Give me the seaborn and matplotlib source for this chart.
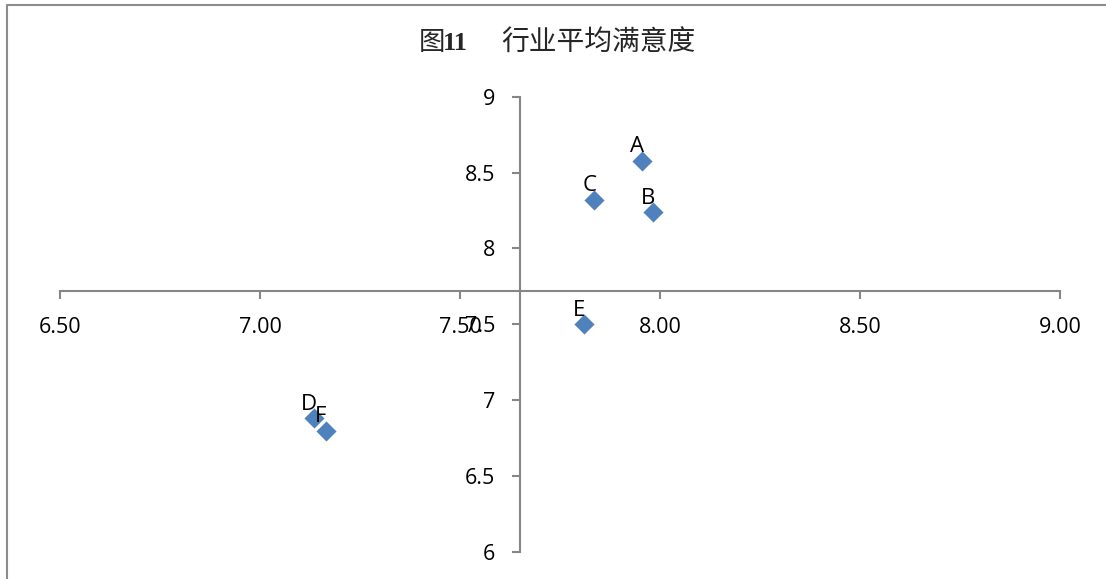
import matplotlib
matplotlib.use("Agg")
import matplotlib.pyplot as plt
from matplotlib.lines import Line2D
import seaborn as sns
import pandas as pd

# Industry average satisfaction: importance (x) vs satisfaction (y)
labels = ["A", "B", "C", "D", "E", "F"]
x_vals = [7.956, 7.983, 7.836, 7.135, 7.810, 7.164]
y_vals = [8.578, 8.238, 8.319, 6.880, 7.500, 6.796]

x_ticks = [6.5, 7.0, 7.5, 8.0, 8.5, 9.0]
y_ticks = [6.0, 6.5, 7.0, 7.5, 8.0, 8.5, 9.0]
x_cross = 7.65   # where the vertical axis crosses
y_cross = 7.72   # where the horizontal axis crosses

sns.set_theme(style="white")
plt.rcParams["font.family"] = ["Open Sans", "Noto Sans CJK SC", "DejaVu Sans"]

df = pd.DataFrame({"label": labels, "x": x_vals, "y": y_vals})

W, H = 1106, 579
fig = plt.figure(figsize=(W / 100, H / 100), dpi=100)
ax = fig.add_axes([60 / W, 1 - 551.7 / H, 1000 / W, (551.7 - 96.7) / H])

sns.scatterplot(data=df, x="x", y="y", marker="D", s=105, color="#4F81BD",
                linewidth=0, ax=ax, zorder=3, clip_on=False)

for lab, xv, yv in zip(labels, x_vals, y_vals):
    ax.annotate(lab, (xv, yv), xytext=(-5, 14), textcoords="offset pixels",
                ha="center", va="center", fontsize=16, color="black",
                zorder=4)

ax.set_xlim(6.5, 9.0)
ax.set_ylim(6.0, 9.0)
ax.set_xticks(x_ticks)
ax.set_yticks(y_ticks)
ax.set_xticklabels([f"{v:.2f}" for v in x_ticks])
ax.set_yticklabels([f"{v:g}" for v in y_ticks])
ax.set_xlabel("")
ax.set_ylabel("")

axis_color = "#868686"
for side in ("top", "right"):
    ax.spines[side].set_visible(False)
ax.spines["left"].set_position(("data", x_cross))
ax.spines["bottom"].set_position(("data", y_cross))
for side in ("left", "bottom"):
    ax.spines[side].set_color(axis_color)
    ax.spines[side].set_linewidth(1.5)

ax.tick_params(axis="both", which="major", direction="out", length=6,
               width=1.5, color=axis_color, labelsize=15.5, labelcolor="black")
ax.tick_params(axis="x", pad=13, bottom=True)
ax.tick_params(axis="y", pad=12, left=True)
ax.patch.set_alpha(0)

# Title: figure number in bold serif, caption in light CJK
ty = 1 - 43 / H
fig.text(419 / W, ty, "图", fontsize=19, family=["Noto Sans CJK SC"],
         fontweight="light", ha="left", va="center")
fig.text(443 / W, ty, "11", fontsize=19, family=["Liberation Serif"],
         fontweight="bold", ha="left", va="center")
fig.text(501 / W, ty, "行 业 平 均 满 意 度".replace(" ", ""), fontsize=20,
         family=["Noto Sans CJK SC"], fontweight="light",
         ha="left", va="center")

# Chart area frame
frame = Line2D([7 / W, 7 / W, 1.0], [0.0, 1 - 5 / H, 1 - 5 / H],
               transform=fig.transFigure, color="#8c8c8c", linewidth=1.5)
fig.add_artist(frame)

fig.savefig("out.png", dpi=100)
